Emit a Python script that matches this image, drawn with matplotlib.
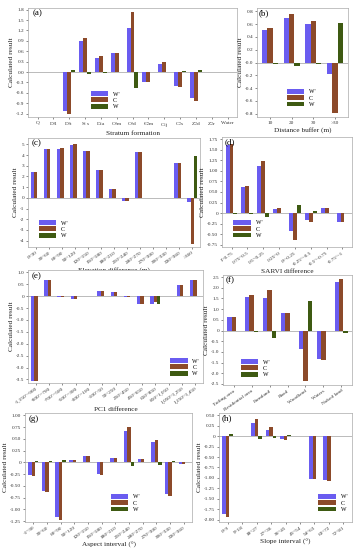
import matplotlib
matplotlib.use("Agg")
import matplotlib.pyplot as plt
import numpy as np

plt.rcParams['font.family'] = ['Liberation Serif', 'DejaVu Serif']
plt.rcParams['mathtext.fontset'] = 'stix'

series = ["W'", "C", "W"]
colors = ['#6a5cf0', '#8c4a2a', '#3e5a12']

# (a) Stratum formation
a_cats = ["Q", "D$_3$l", "D$_3$t", "S$_1$s", "D$_1$a", "O$_3$m", "O$_3$d",
          "Є$_2$m", "C$_1$j", "C$_2$s", "Z$_2$d", "Z$_2$r", "Water"]
a_Wp = [0, 0, -1.13, 0.90, 0.41, 0.54, 1.27, -0.29, 0.24, -0.39, -0.76, 0, 0]
a_C = [0, 0, -1.22, 0.99, 0.45, 0.54, 1.73, -0.29, 0.29, -0.44, -0.83, 0, 0]
a_W = [0, 0, 0.07, -0.07, -0.02, 0.0, -0.47, 0.0, -0.01, 0.03, 0.05, 0, 0]

# (b) Distance buffer
b_cats = ["10", "20", "30", ">30"]
b_Wp = [0.50, 0.69, 0.60, -0.18]
b_C = [0.54, 0.75, 0.64, -0.78]
b_W = [-0.03, -0.05, -0.03, 0.61]

# (c) Elevation difference
c_cats = ["0~30", "30~60", "60~90", "90~120", "120~150", "150~180", "180~210",
          "210~240", "240~270", "270~300", "300~330", "330~360", ">360"]
c_Wp = [2.42, 4.56, 4.58, 4.97, 4.42, 2.64, 0.87, -0.25, 4.25, 0, 0, 3.26, -0.37]
c_C = [2.42, 4.60, 4.62, 5.03, 4.42, 2.64, 0.87, -0.25, 4.30, 0, 0, 3.26, -4.29]
c_W = [0.0, -0.05, -0.05, -0.05, 0.0, 0.0, 0.0, 0.0, 0.0, 0, 0, 0.0, 3.88]

# (d) SARVI difference
d_cats = ["1~0.75", "0.75~0.5", "0.5~0.25", "0.25~0", "0~-0.25",
          "-0.25~-0.5", "-0.5~-0.75", "-0.75~-1"]
d_Wp = [1.60, 0.61, 1.12, 0.09, -0.43, -0.16, 0.12, -0.20]
d_C = [1.64, 0.65, 1.24, 0.12, -0.64, -0.21, 0.12, -0.20]
d_W = [-0.02, -0.02, -0.09, 0.0, 0.20, 0.04, 0.0, 0.0]

# (e) PC1 difference
e_cats = ["-1,150~-900", "-900~-700", "-700~-500", "-500~-300", "-300~-100",
          "-100~50", "50~250", "250~450", "450~650", "650~850", "850~1,050",
          "1,050~1,250", "1,250~1,450"]
e_Wp = [-3.57, 0.68, -0.05, -0.14, 0.02, 0.20, 0.16, -0.05, -0.33, -0.31, 0.02, 0.45, 0.68]
e_C = [-3.57, 0.70, -0.05, -0.14, 0.02, 0.22, 0.16, -0.05, -0.33, -0.25, 0.02, 0.45, 0.68]
e_W = [0.02, 0.02, 0.0, 0.0, 0.0, 0.02, 0.0, 0.0, 0.02, -0.31, 0.0, 0.0, 0.0]

# (f) Land cover type
f_cats = ["Tailing area", "Residential area", "Farmland", "Road", "Woodland",
          "Waters", "Naked land"]
f_Wp = [0.65, 1.55, 1.50, 0.80, -0.87, -1.35, 2.26]
f_C = [0.65, 1.65, 1.90, 0.80, -2.36, -1.40, 2.40]
f_W = [0.0, -0.05, -0.35, 0.0, 1.37, 0.0, -0.10]

# (g) Aspect interval
g_cats = ["-1~30", "30~60", "60~90", "90~120", "120~150", "150~180", "180~210",
          "210~240", "240~270", "270~300", "300~330", "330~360"]
g_Wp = [-0.28, -0.60, -1.16, 0.06, 0.13, -0.24, 0.09, 0.66, 0.07, 0.43, -0.67, -0.04]
g_C = [-0.30, -0.63, -1.22, 0.06, 0.14, -0.26, 0.10, 0.75, 0.07, 0.48, -0.71, -0.04]
g_W = [0.02, 0.03, 0.04, 0.0, 0.01, 0.01, 0.0, -0.085, 0.0, -0.05, 0.035, 0.0]

# (h) Slope interval
h_cats = ["0~9", "9~18", "18~27", "27~36", "36~45", "45~54", "54~63", "63~72", "72~81"]
h_Wp = [-1.85, -0.01, 0.30, 0.15, -0.08, 0, -1.02, -1.06, 0]
h_C = [-1.94, -0.01, 0.40, 0.22, -0.10, 0, -1.03, -1.07, 0]
h_W = [0.05, 0.0, -0.07, -0.05, 0.02, 0, 0.0, 0.0, 0]

W, H = 358, 550
fig = plt.figure(figsize=(W / 100, H / 100), dpi=100)


def add_ax(l, t, r, b):
    return fig.add_axes([l / W, 1 - b / H, (r - l) / W, (b - t) / H])


def panel(box, label, cats, vals, xlabel, yticks, ylim, ytl, rot, leg_anchor, leg_loc='lower left'):
    ax = add_ax(*box)
    x = np.arange(len(cats))
    wdt = 0.25
    for i, (v, c, s) in enumerate(zip(vals, colors, series)):
        ax.bar(x + (i - 1) * wdt, v, wdt, color=c, label=s, linewidth=0)
    ax.axhline(0, color='#b0b0b0', lw=0.6, zorder=0)
    ax.set_xlim(-0.6, len(cats) - 0.4)
    ax.set_ylim(*ylim)
    ax.set_yticks(yticks)
    ax.set_yticklabels(ytl)
    ax.set_xticks(x)
    if rot:
        ax.set_xticklabels(cats, rotation=35, ha='right', rotation_mode='anchor')
    else:
        ax.set_xticklabels(cats)
    ax.tick_params(labelsize=3.8, length=1.2, width=0.4, pad=1.5, colors='#333333')
    for sp in ax.spines.values():
        sp.set_linewidth(0.5)
        sp.set_color('#aaaaaa')
    ax.set_xlabel(xlabel, fontsize=5.2, labelpad=1.5, color='#222222')
    ax.set_ylabel('Calculated result', fontsize=5.2, labelpad=1.5, color='#222222')
    ax.text(0.02, 0.985, label, transform=ax.transAxes, fontsize=6.5, va='top', ha='left')
    ax.legend(loc=leg_loc, bbox_to_anchor=leg_anchor, frameon=False, fontsize=4.2,
              handlelength=3.0, handleheight=0.9, labelspacing=0.15, handletextpad=0.8,
              borderaxespad=0)
    return ax


def fmt(vals, nd):
    return [('0' if abs(v) < 1e-9 else f'{v:.{nd}f}') for v in vals]


ya = np.arange(-1.2, 1.81, 0.3)
panel((28, 8, 237, 117), '(a)', a_cats, [a_Wp, a_C, a_W], 'Stratum formation',
      ya, (-1.3, 1.85), [f'{v:.1f}' for v in ya], False, (0.29, 0.05))

yb = np.arange(-0.8, 0.81, 0.2)
panel((257, 8, 348, 117), '(b)', b_cats, [b_Wp, b_C, b_W], 'Distance buffer (m)',
      yb, (-0.85, 0.85), [f'{v:.1f}' for v in yb], False, (0.3, 0.07))

yc = np.arange(-4, 5.1, 1)
panel((28, 138, 200, 247), '(c)', c_cats, [c_Wp, c_C, c_W], 'Elevation difference (m)',
      yc, (-4.6, 5.6), [f'{int(v)}' for v in yc], True, (0.05, 0.06))

yd = np.arange(-0.75, 1.76, 0.25)
panel((222, 137, 352, 247), '(d)', d_cats, [d_Wp, d_C, d_W], 'SARVI difference',
      yd, (-0.8, 1.8), fmt(yd, 2), True, (0.07, 0.06))

ye = np.arange(-3.5, 1.01, 0.5)
panel((28, 270, 203, 383), '(e)', e_cats, [e_Wp, e_C, e_W], 'PC1 difference',
      ye, (-3.65, 1.1), fmt(ye, 1), True, (0.99, 0.04), 'lower right')

yf = np.arange(-2.5, 2.51, 0.5)
panel((223, 275, 352, 385), '(f)', f_cats, [f_Wp, f_C, f_W], 'Land cover type',
      yf, (-2.55, 2.6), fmt(yf, 1), True, (0.12, 0.05))

yg = np.arange(-1.25, 1.01, 0.25)
panel((25, 413, 192, 522), '(g)', g_cats, [g_Wp, g_C, g_W], 'Aspect interval (°)',
      yg, (-1.27, 1.05), fmt(yg, 2), True, (0.5, 0.07))

yh = np.arange(-2.0, 0.51, 0.25)
panel((219, 413, 352, 522), '(h)', h_cats, [h_Wp, h_C, h_W], 'Slope interval (°)',
      yh, (-2.05, 0.55), fmt(yh, 2), True, (0.98, 0.07), 'lower right')

fig.savefig('out.png', dpi=100)
